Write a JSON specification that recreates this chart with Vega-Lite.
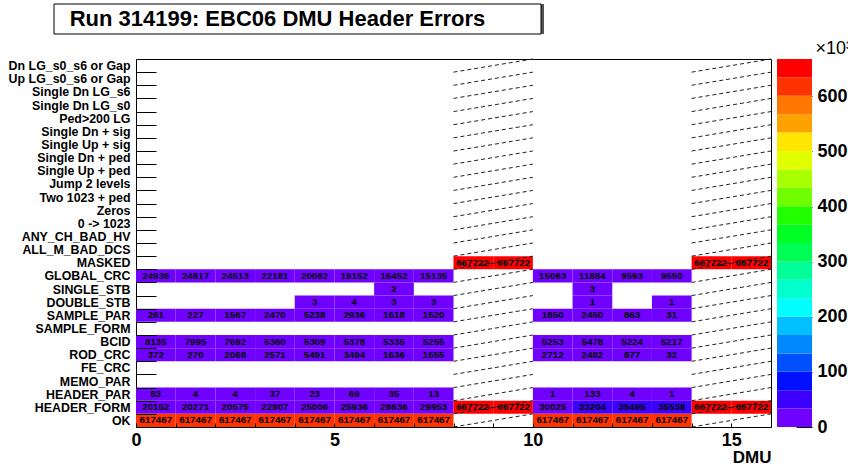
{
  "$schema": "https://vega.github.io/schema/vega-lite/v6.json",
  "padding": {"left": 7, "top": 3, "right": 0, "bottom": 0},
  "background": "white",
  "config": {"font": "Liberation Sans", "view": {"stroke": null}},
  "datasets": {
    "rows": [
      {"err": "Dn LG_s0_s6 or Gap"}, {"err": "Up LG_s0_s6 or Gap"}, {"err": "Single Dn LG_s6"}, {"err": "Single Dn LG_s0"},
      {"err": "Ped>200 LG"}, {"err": "Single Dn + sig"}, {"err": "Single Up + sig"}, {"err": "Single Dn + ped"},
      {"err": "Single Up + ped"}, {"err": "Jump 2 levels"}, {"err": "Two 1023 + ped"}, {"err": "Zeros"},
      {"err": "0 -> 1023"}, {"err": "ANY_CH_BAD_HV"}, {"err": "ALL_M_BAD_DCS"}, {"err": "MASKED"},
      {"err": "GLOBAL_CRC"}, {"err": "SINGLE_STB"}, {"err": "DOUBLE_STB"}, {"err": "SAMPLE_PAR"},
      {"err": "SAMPLE_FORM"}, {"err": "BCID"}, {"err": "ROD_CRC"}, {"err": "FE_CRC"},
      {"err": "MEMO_PAR"}, {"err": "HEADER_PAR"}, {"err": "HEADER_FORM"}, {"err": "OK"}
    ],
    "cells": [
      {"err": "GLOBAL_CRC", "dmu": 0, "n": 24936}, {"err": "GLOBAL_CRC", "dmu": 1, "n": 24817}, {"err": "GLOBAL_CRC", "dmu": 2, "n": 24513}, {"err": "GLOBAL_CRC", "dmu": 3, "n": 22181},
      {"err": "GLOBAL_CRC", "dmu": 4, "n": 20082}, {"err": "GLOBAL_CRC", "dmu": 5, "n": 19152}, {"err": "GLOBAL_CRC", "dmu": 6, "n": 16452}, {"err": "GLOBAL_CRC", "dmu": 7, "n": 15135},
      {"err": "GLOBAL_CRC", "dmu": 10, "n": 15063}, {"err": "GLOBAL_CRC", "dmu": 11, "n": 11884}, {"err": "GLOBAL_CRC", "dmu": 12, "n": 9593}, {"err": "GLOBAL_CRC", "dmu": 13, "n": 9550},
      {"err": "SINGLE_STB", "dmu": 6, "n": 2}, {"err": "SINGLE_STB", "dmu": 11, "n": 3},
      {"err": "DOUBLE_STB", "dmu": 4, "n": 3}, {"err": "DOUBLE_STB", "dmu": 5, "n": 4}, {"err": "DOUBLE_STB", "dmu": 6, "n": 3}, {"err": "DOUBLE_STB", "dmu": 7, "n": 3},
      {"err": "DOUBLE_STB", "dmu": 11, "n": 1}, {"err": "DOUBLE_STB", "dmu": 13, "n": 1},
      {"err": "SAMPLE_PAR", "dmu": 0, "n": 261}, {"err": "SAMPLE_PAR", "dmu": 1, "n": 227}, {"err": "SAMPLE_PAR", "dmu": 2, "n": 1567}, {"err": "SAMPLE_PAR", "dmu": 3, "n": 2470},
      {"err": "SAMPLE_PAR", "dmu": 4, "n": 5238}, {"err": "SAMPLE_PAR", "dmu": 5, "n": 2936}, {"err": "SAMPLE_PAR", "dmu": 6, "n": 1618}, {"err": "SAMPLE_PAR", "dmu": 7, "n": 1520},
      {"err": "SAMPLE_PAR", "dmu": 10, "n": 1850}, {"err": "SAMPLE_PAR", "dmu": 11, "n": 2450}, {"err": "SAMPLE_PAR", "dmu": 12, "n": 863}, {"err": "SAMPLE_PAR", "dmu": 13, "n": 31},
      {"err": "BCID", "dmu": 0, "n": 8135}, {"err": "BCID", "dmu": 1, "n": 7995}, {"err": "BCID", "dmu": 2, "n": 7692}, {"err": "BCID", "dmu": 3, "n": 5360},
      {"err": "BCID", "dmu": 4, "n": 5309}, {"err": "BCID", "dmu": 5, "n": 5378}, {"err": "BCID", "dmu": 6, "n": 5335}, {"err": "BCID", "dmu": 7, "n": 5255},
      {"err": "BCID", "dmu": 10, "n": 5253}, {"err": "BCID", "dmu": 11, "n": 5478}, {"err": "BCID", "dmu": 12, "n": 5224}, {"err": "BCID", "dmu": 13, "n": 5217},
      {"err": "ROD_CRC", "dmu": 0, "n": 372}, {"err": "ROD_CRC", "dmu": 1, "n": 270}, {"err": "ROD_CRC", "dmu": 2, "n": 2068}, {"err": "ROD_CRC", "dmu": 3, "n": 2571},
      {"err": "ROD_CRC", "dmu": 4, "n": 5491}, {"err": "ROD_CRC", "dmu": 5, "n": 3494}, {"err": "ROD_CRC", "dmu": 6, "n": 1636}, {"err": "ROD_CRC", "dmu": 7, "n": 1555},
      {"err": "ROD_CRC", "dmu": 10, "n": 2712}, {"err": "ROD_CRC", "dmu": 11, "n": 2482}, {"err": "ROD_CRC", "dmu": 12, "n": 877}, {"err": "ROD_CRC", "dmu": 13, "n": 32},
      {"err": "HEADER_PAR", "dmu": 0, "n": 83}, {"err": "HEADER_PAR", "dmu": 1, "n": 4}, {"err": "HEADER_PAR", "dmu": 2, "n": 4}, {"err": "HEADER_PAR", "dmu": 3, "n": 37},
      {"err": "HEADER_PAR", "dmu": 4, "n": 23}, {"err": "HEADER_PAR", "dmu": 5, "n": 69}, {"err": "HEADER_PAR", "dmu": 6, "n": 35}, {"err": "HEADER_PAR", "dmu": 7, "n": 13},
      {"err": "HEADER_PAR", "dmu": 10, "n": 1}, {"err": "HEADER_PAR", "dmu": 11, "n": 133}, {"err": "HEADER_PAR", "dmu": 12, "n": 4}, {"err": "HEADER_PAR", "dmu": 13, "n": 1},
      {"err": "HEADER_FORM", "dmu": 0, "n": 20152}, {"err": "HEADER_FORM", "dmu": 1, "n": 20271}, {"err": "HEADER_FORM", "dmu": 2, "n": 20575}, {"err": "HEADER_FORM", "dmu": 3, "n": 22907},
      {"err": "HEADER_FORM", "dmu": 4, "n": 25006}, {"err": "HEADER_FORM", "dmu": 5, "n": 25936}, {"err": "HEADER_FORM", "dmu": 6, "n": 28636}, {"err": "HEADER_FORM", "dmu": 7, "n": 29953},
      {"err": "HEADER_FORM", "dmu": 10, "n": 30025}, {"err": "HEADER_FORM", "dmu": 11, "n": 33204}, {"err": "HEADER_FORM", "dmu": 12, "n": 35495}, {"err": "HEADER_FORM", "dmu": 13, "n": 35538},
      {"err": "OK", "dmu": 0, "n": 617467}, {"err": "OK", "dmu": 1, "n": 617467}, {"err": "OK", "dmu": 2, "n": 617467}, {"err": "OK", "dmu": 3, "n": 617467},
      {"err": "OK", "dmu": 4, "n": 617467}, {"err": "OK", "dmu": 5, "n": 617467}, {"err": "OK", "dmu": 6, "n": 617467}, {"err": "OK", "dmu": 7, "n": 617467},
      {"err": "OK", "dmu": 10, "n": 617467}, {"err": "OK", "dmu": 11, "n": 617467}, {"err": "OK", "dmu": 12, "n": 617467}, {"err": "OK", "dmu": 13, "n": 617467}
    ],
    "maskedCells": [
      {"err": "MASKED", "dmu": 8, "n": 667722}, {"err": "MASKED", "dmu": 9, "n": 667722}, {"err": "MASKED", "dmu": 14, "n": 667722}, {"err": "MASKED", "dmu": 15, "n": 667722},
      {"err": "HEADER_FORM", "dmu": 8, "n": 667722}, {"err": "HEADER_FORM", "dmu": 9, "n": 667722}, {"err": "HEADER_FORM", "dmu": 14, "n": 667722}, {"err": "HEADER_FORM", "dmu": 15, "n": 667722}
    ],
    "maskedLabels": [
      {"err": "MASKED", "dmu": 8, "label": "667722 - 667722"}, {"err": "MASKED", "dmu": 14, "label": "667722 - 667722"},
      {"err": "HEADER_FORM", "dmu": 8, "label": "667722 - 667722"}, {"err": "HEADER_FORM", "dmu": 14, "label": "667722 - 667722"}
    ],
    "bar": [
      {"zlo": 0, "zhi": 33386}, {"zlo": 33386, "zhi": 66772}, {"zlo": 66772, "zhi": 100158}, {"zlo": 100158, "zhi": 133544},
      {"zlo": 133544, "zhi": 166930}, {"zlo": 166930, "zhi": 200316}, {"zlo": 200316, "zhi": 233702}, {"zlo": 233702, "zhi": 267088},
      {"zlo": 267088, "zhi": 300474}, {"zlo": 300474, "zhi": 333860}, {"zlo": 333860, "zhi": 367246}, {"zlo": 367246, "zhi": 400632},
      {"zlo": 400632, "zhi": 434018}, {"zlo": 434018, "zhi": 467404}, {"zlo": 467404, "zhi": 500790}, {"zlo": 500790, "zhi": 534176},
      {"zlo": 534176, "zhi": 567562}, {"zlo": 567562, "zhi": 600948}, {"zlo": 600948, "zhi": 634334}, {"zlo": 634334, "zhi": 667722}
    ]
  },
  "spacing": 4,
  "vconcat": [
    {
      "width": 487,
      "height": 30,
      "data": {"values": [{"title": "Run 314199: EBC06 DMU Header Errors"}]},
      "encoding": {
        "x": {"datum": 0, "type": "quantitative", "scale": {"domain": [0, 1], "nice": false, "zero": false}, "axis": null},
        "x2": {"datum": 1}
      },
      "layer": [
        {"mark": {"type": "rect", "fill": "#555555", "xOffset": -79, "x2Offset": -79, "y2Offset": 3}},
        {"mark": {"type": "rect", "fill": "white", "stroke": "black", "strokeWidth": 1, "xOffset": -82, "x2Offset": -82}},
        {
          "mark": {"type": "text", "fontSize": 22, "fontWeight": "bold", "color": "black", "dx": -102, "baseline": "middle"},
          "encoding": {"x": {"datum": 0.5, "type": "quantitative"}, "x2": null, "text": {"field": "title"}}
        }
      ]
    },
    {
      "spacing": 5,
      "hconcat": [
        {
          "width": 635,
          "height": 368,
          "view": {"stroke": "black", "strokeWidth": 1},
          "encoding": {
            "y": {"field": "err", "type": "nominal", "sort": null,
              "scale": {"domain": ["Dn LG_s0_s6 or Gap", "Up LG_s0_s6 or Gap", "Single Dn LG_s6", "Single Dn LG_s0", "Ped>200 LG", "Single Dn + sig", "Single Up + sig", "Single Dn + ped", "Single Up + ped", "Jump 2 levels", "Two 1023 + ped", "Zeros", "0 -> 1023", "ANY_CH_BAD_HV", "ALL_M_BAD_DCS", "MASKED", "GLOBAL_CRC", "SINGLE_STB", "DOUBLE_STB", "SAMPLE_PAR", "SAMPLE_FORM", "BCID", "ROD_CRC", "FE_CRC", "MEMO_PAR", "HEADER_PAR", "HEADER_FORM", "OK"], "paddingInner": 0, "paddingOuter": 0},
              "axis": {"title": null, "domain": false, "tickBand": "extent", "tickSize": -20, "tickColor": "black", "labelPadding": 26, "labelFontSize": 12.4, "labelFontWeight": "bold", "labelColor": "black"}
            }
          },
          "layer": [
            {
              "data": {"name": "cells"},
              "mark": {"type": "rect"},
              "encoding": {
                "x": {"field": "dmu", "type": "ordinal", "scale": {"domain": [0,1,2,3,4,5,6,7,8,9,10,11,12,13,14,15], "paddingInner": 0, "paddingOuter": 0},
                  "axis": {"tickBand": "extent", "labelOffset": -19.84, "labelExpr": "datum.value % 5 === 0 ? datum.label : ''", "tickSize": -4, "tickColor": "black", "labelPadding": 8, "labelFontSize": 18, "labelFontWeight": "bold", "labelAngle": 0, "labelColor": "black", "domain": false, "title": "DMU", "titleAnchor": "end", "titleFontSize": 17, "titleFontWeight": "bold", "titlePadding": 0, "titleColor": "black"}},
                "color": {"field": "n", "type": "quantitative", "scale": {"type": "quantize", "domain": [0, 664000], "nice": false, "range": ["#7000ff", "#3c00ff", "#0010ff", "#0050ff", "#0088ff", "#00c0ff", "#00ffff", "#00ffcc", "#00ff99", "#00ff55", "#00ff22", "#22ff00", "#70ff00", "#a8ff00", "#e0ff00", "#ffe600", "#ffa200", "#ff7700", "#ff3300", "#ff0000"]}, "legend": null}
              }
            },
            {
              "data": {"name": "maskedCells"},
              "mark": {"type": "rect"},
              "encoding": {
                "x": {"field": "dmu", "type": "ordinal", "scale": {"domain": [0,1,2,3,4,5,6,7,8,9,10,11,12,13,14,15], "paddingInner": 0, "paddingOuter": 0}},
                "color": {"field": "n", "type": "quantitative", "scale": {"type": "quantize", "domain": [0, 664000], "nice": false, "range": ["#7000ff", "#3c00ff", "#0010ff", "#0050ff", "#0088ff", "#00c0ff", "#00ffff", "#00ffcc", "#00ff99", "#00ff55", "#00ff22", "#22ff00", "#70ff00", "#a8ff00", "#e0ff00", "#ffe600", "#ffa200", "#ff7700", "#ff3300", "#ff0000"]}, "legend": null}
              }
            },
            {
              "data": {"name": "rows"},
              "mark": {"type": "rule", "strokeDash": [4, 3], "color": "#222222", "strokeWidth": 1},
              "encoding": {
                "x": {"datum": 8, "type": "ordinal", "bandPosition": 0},
                "x2": {"datum": 9, "bandPosition": 1},
                "y": {"field": "err", "type": "nominal", "bandPosition": 1},
                "y2": {"field": "err", "bandPosition": 0}
              }
            },
            {
              "data": {"name": "rows"},
              "mark": {"type": "rule", "strokeDash": [4, 3], "color": "#222222", "strokeWidth": 1},
              "encoding": {
                "x": {"datum": 14, "type": "ordinal", "bandPosition": 0},
                "x2": {"datum": 15, "bandPosition": 1},
                "y": {"field": "err", "type": "nominal", "bandPosition": 1},
                "y2": {"field": "err", "bandPosition": 0}
              }
            },
            {
              "data": {"name": "cells"},
              "mark": {"type": "text", "fontSize": 9.8, "fontWeight": "bold", "color": "black", "baseline": "middle"},
              "encoding": {
                "x": {"field": "dmu", "type": "ordinal"},
                "text": {"field": "n", "type": "quantitative", "format": "d"}
              }
            },
            {
              "data": {"name": "maskedLabels"},
              "mark": {"type": "text", "fontSize": 9.8, "fontWeight": "bold", "color": "black", "baseline": "middle"},
              "encoding": {
                "x": {"field": "dmu", "type": "ordinal", "bandPosition": 1},
                "text": {"field": "label"}
              }
            }
          ]
        },
        {
          "width": 35,
          "height": 368,
          "data": {"name": "bar"},
          "mark": {"type": "rect"},
          "encoding": {
            "y": {"field": "zlo", "type": "quantitative", "scale": {"domain": [0, 667722], "nice": false, "zero": true},
              "axis": {"orient": "right", "values": [0, 100000, 200000, 300000, 400000, 500000, 600000], "labelExpr": "datum.value / 1000", "tickSize": -16, "tickColor": "black", "labelPadding": 21, "labelFontSize": 18, "labelFontWeight": "bold", "labelColor": "black", "domain": false, "grid": false,
                "title": "×10³", "titleAngle": 0, "titleAlign": "left", "titleBaseline": "bottom", "titleX": 3, "titleY": -2, "titleFontSize": 18, "titleFontWeight": "normal", "titleColor": "black"}},
            "y2": {"field": "zhi"},
            "color": {"field": "zlo", "type": "quantitative", "scale": {"type": "quantize", "domain": [0, 664000], "nice": false, "range": ["#7000ff", "#3c00ff", "#0010ff", "#0050ff", "#0088ff", "#00c0ff", "#00ffff", "#00ffcc", "#00ff99", "#00ff55", "#00ff22", "#22ff00", "#70ff00", "#a8ff00", "#e0ff00", "#ffe600", "#ffa200", "#ff7700", "#ff3300", "#ff0000"]}, "legend": null}
          }
        }
      ]
    }
  ]
}
